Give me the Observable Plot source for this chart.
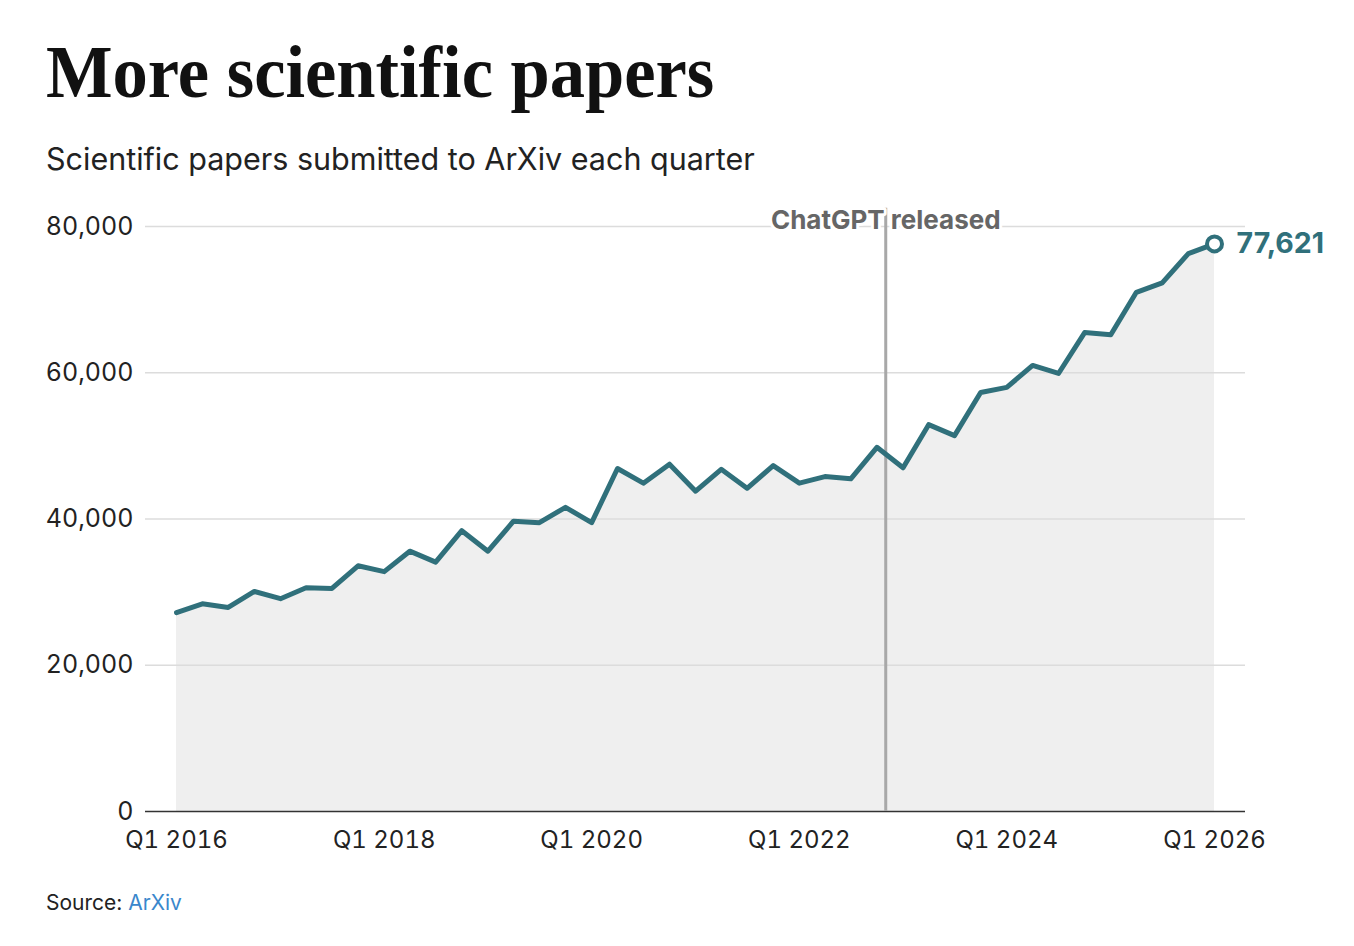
<!DOCTYPE html>
<html>
<head>
<meta charset="utf-8">
<script src="https://cdn.jsdelivr.net/npm/d3@7"></script>
<script src="https://cdn.jsdelivr.net/npm/@observablehq/plot@0.6"></script>
<style>
  html, body { margin: 0; padding: 0; background: #fff; }
  body { width: 1354px; height: 946px; position: relative; overflow: hidden; }
  #title { position: absolute; left: 46px; top: 34px; font-family: "Liberation Serif", serif; font-weight: 700;
           font-size: 75px; line-height: 1; color: #111; white-space: nowrap; transform: scaleX(0.94); transform-origin: left top; margin: 0; }
  #subtitle { position: absolute; left: 46px; top: 144px; font-family: "Inter", sans-serif; font-size: 30.5px; line-height: 1;
              color: #222; white-space: nowrap; margin: 0; }
  #chart { position: absolute; left: 0; top: 190px; }
  #source { position: absolute; left: 46px; top: 892px; font-family: "Inter", sans-serif; font-size: 21px; line-height: 1; color: #222; }
  #source a { color: #3a87cc; text-decoration: none; }
</style>
</head>
<body>
<h1 id="title">More scientific papers</h1>
<div id="subtitle">Scientific papers submitted to ArXiv each quarter</div>
<div id="chart"></div>
<div id="source">Source: <a>ArXiv</a></div>
<script>
// Quarters (start of each quarter)
const quarters = [
  "2016-01-01","2016-04-01","2016-07-01","2016-10-01",
  "2017-01-01","2017-04-01","2017-07-01","2017-10-01",
  "2018-01-01","2018-04-01","2018-07-01","2018-10-01",
  "2019-01-01","2019-04-01","2019-07-01","2019-10-01",
  "2020-01-01","2020-04-01","2020-07-01","2020-10-01",
  "2021-01-01","2021-04-01","2021-07-01","2021-10-01",
  "2022-01-01","2022-04-01","2022-07-01","2022-10-01",
  "2023-01-01","2023-04-01","2023-07-01","2023-10-01",
  "2024-01-01","2024-04-01","2024-07-01","2024-10-01",
  "2025-01-01","2025-04-01","2025-07-01","2025-10-01",
  "2026-01-01"
];
// Papers submitted per quarter
const papers = [
  27200, 28400, 27900, 30100,
  29100, 30600, 30500, 33600,
  32800, 35600, 34100, 38400,
  35600, 39700, 39500, 41600,
  39500, 46900, 44900, 47500,
  43800, 46800, 44200, 47300,
  44900, 45800, 45500, 49800,
  47000, 52900, 51400, 57300,
  58000, 61000, 59900, 65500,
  65200, 71000, 72300, 76300,
  77621
];
const yTicks = [0, 20000, 40000, 60000, 80000];
const xTickYears = [2016, 2018, 2020, 2022, 2024, 2026];
const eventDates = ["2022-11-01"];
const eventLabels = ["ChatGPT released"];

const data = quarters.map((q, i) => ({ date: new Date(q + "T00:00:00Z"), value: papers[i] }));
const last = data[data.length - 1];
const events = eventDates.map((d, i) => ({ date: new Date(d + "T00:00:00Z"), label: eventLabels[i] }));
const xTicks = xTickYears.map(y => new Date(Date.UTC(y, 0, 1)));
const fmt = d3.format(",");
const teal = "#30707b";

const chart = Plot.plot({
  width: 1354,
  height: 680,
  marginLeft: 145,
  marginRight: 109,
  marginTop: 36,
  marginBottom: 59,
  style: { fontFamily: "Inter, sans-serif", fontSize: "25px", color: "#222", background: "white", overflow: "visible" },
  x: {
    type: "utc",
    domain: [data[0].date, last.date],
    insetLeft: 31,
    insetRight: 31
  },
  y: {
    domain: [0, 80000]
  },
  marks: [
    Plot.areaY(data, { x: "date", y: "value", fill: "#efefef" }),
    Plot.ruleY(yTicks.filter(d => d > 0), { stroke: "#dcdcdc", strokeWidth: 1.5 }),
    Plot.ruleY([0], { stroke: "#333", strokeWidth: 1.5 }),
    Plot.axisY({ ticks: yTicks, tickFormat: fmt, tickSize: 0, tickPadding: 12, label: null, fontSize: 25, fill: "#222" }),
    Plot.axisX({ ticks: xTicks, tickFormat: d => "Q1 " + d.getUTCFullYear(), tickSize: 0, tickPadding: 19,
      label: null, fontSize: 24, fill: "#222" }),
    Plot.ruleX(events, { x: "date", y1: 0, y2: 82500, stroke: "#a8a8a8", strokeWidth: 3 }),
    Plot.text(events, { x: "date", y: 80000, dy: -6, text: "label", textAnchor: "middle", fill: "#666",
      fontWeight: 700, fontSize: 26, stroke: "white", strokeWidth: 6, paintOrder: "stroke" }),
    Plot.lineY(data, { x: "date", y: "value", stroke: teal, strokeWidth: 5, strokeLinejoin: "round" }),
    Plot.dot([last], { x: "date", y: "value", r: 7.5, fill: "white", stroke: teal, strokeWidth: 4 }),
    Plot.text([last], { x: "date", y: "value", text: d => fmt(d.value), dx: 22, textAnchor: "start",
      fill: teal, fontWeight: 700, fontSize: 28.5 })
  ]
});
document.getElementById("chart").appendChild(chart);
</script>
</body>
</html>
